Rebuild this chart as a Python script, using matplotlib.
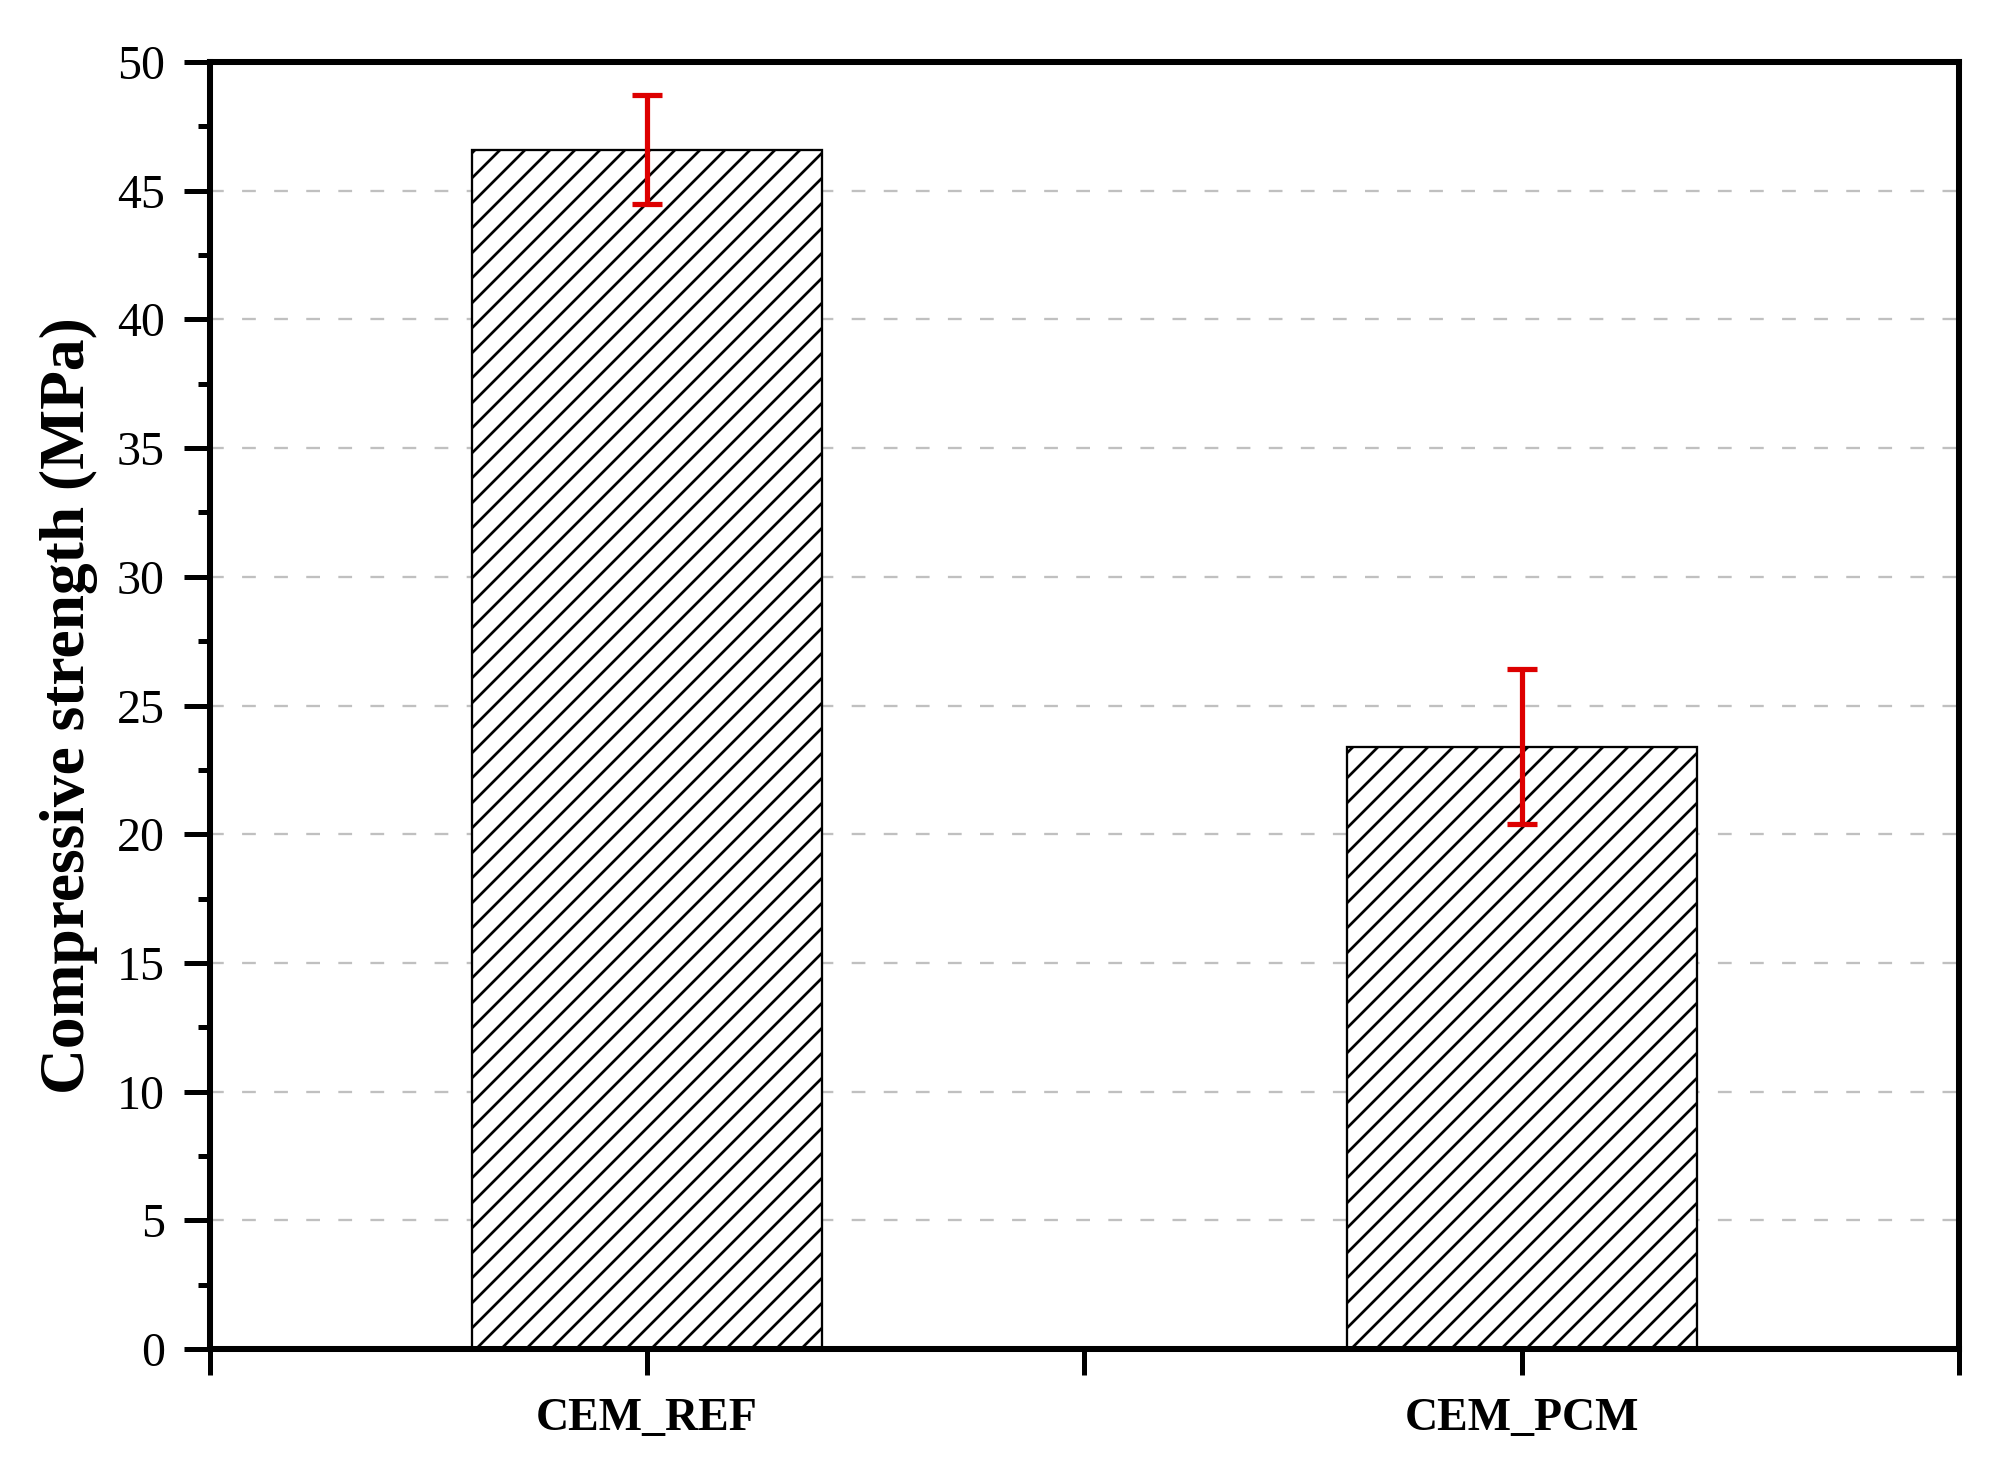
import matplotlib
matplotlib.use("Agg")
import matplotlib.pyplot as plt
from matplotlib.ticker import MultipleLocator

# data
samples = ["CEM_REF", "CEM_PCM"]
strength = [46.6, 23.4]        # MPa
strength_err = [2.1, 3.0]      # MPa

plt.rcParams['font.family'] = ['Liberation Serif', 'DejaVu Serif']
plt.rcParams['hatch.linewidth'] = 1.3
plt.rcParams['hatch.color'] = 'black'

dpi = 150
fig = plt.figure(figsize=(2009 / dpi, 1463 / dpi), dpi=dpi)
ax = fig.add_axes([0.1043, 0.0779, 0.8708, 0.8797])

pos = [1, 3]
ax.bar(pos, strength, width=0.8, color='white', edgecolor='black',
       linewidth=1.1, hatch='//', zorder=2)
ax.errorbar(pos, strength, yerr=strength_err, fmt='none', ecolor='#dd0000',
            elinewidth=2.5, capsize=7, capthick=2.5, zorder=3)

ax.set_xlim(0, 4)
ax.set_ylim(0, 50)

# x ticks: edges and middle unlabeled, labels under the bars
ax.set_xticks([0, 1, 2, 3, 4])
ax.set_xticklabels(["", samples[0], "", samples[1], ""],
                   fontsize=22, fontweight='bold')
ax.yaxis.set_major_locator(MultipleLocator(5))
ax.yaxis.set_minor_locator(MultipleLocator(2.5))
ax.tick_params(axis='both', which='major', direction='out', length=12.5,
               width=2.4, labelsize=23, pad=9)
ax.tick_params(axis='y', which='minor', direction='out', length=6, width=2.4)
ax.tick_params(axis='x', labelsize=22, pad=11)

for sp in ax.spines.values():
    sp.set_linewidth(2.9)

ax.yaxis.grid(True, linestyle=(0, (6, 8)), color='#c0c0c0', linewidth=1.1,
              zorder=0)
ax.set_axisbelow(True)

ax.set_ylabel("Compressive strength (MPa)", fontsize=30.5, fontweight='bold',
              labelpad=9)

fig.savefig("out.png", dpi=dpi, facecolor='white')
